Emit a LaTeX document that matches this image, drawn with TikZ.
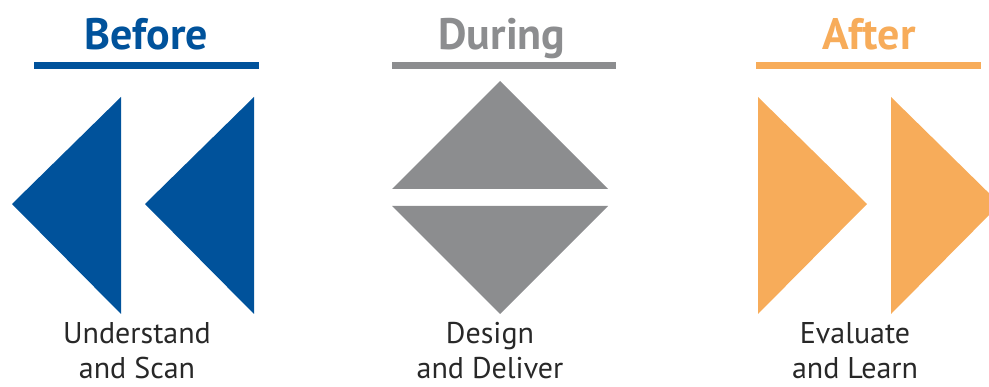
\documentclass[tikz,border=0pt]{standalone}
\usepackage{fontspec}
\setmainfont{PT Sans}
\usetikzlibrary{positioning}
\definecolor{beforeblue}{RGB}{0,82,155}
\definecolor{duringgray}{RGB}{140,141,143}
\definecolor{afterorange}{RGB}{247,172,90}
\definecolor{captiongray}{RGB}{40,40,40}
\tikzset{
  % Phase headings and captions
  phasetitle/.style   = { font=\fontsize{44}{44}\selectfont\bfseries, inner sep=0, anchor=base },
  phaserule/.style    = { line width=7pt },
  phasecaption/.style = { font=\fontsize{30}{35}\selectfont, text=captiongray,
                          align=center, inner sep=0, anchor=north },
  % Arrow shapes
  phasetri/.style     = { draw=none }
}

\begin{document}
\begin{tikzpicture}[x=1pt, y=-1pt]

  \useasboundingbox (0,0) rectangle (989,387);
  \clip (0,0) rectangle (989,387);

  % --- Before -------------------------------------------------------
  \node[phasetitle, text=beforeblue] (beforetitle) at (146,50) {Before};
  \draw[phaserule, beforeblue] (34,65.5) -- (259,65.5);
  \foreach \x in {12,145}
    \fill[phasetri, beforeblue] (\x,204) -- ++(109,-107) -- ++(0,217) -- cycle;
  \node[phasecaption] (beforecap) at (137,322) {Understand\\and Scan};

  % --- During -------------------------------------------------------
  \node[phasetitle, text=duringgray] (duringtitle) at (502,50) {During};
  \draw[phaserule, duringgray] (392,65.5) -- (616,65.5);
  \fill[phasetri, duringgray] (392,189) -- (500,81) -- (608,189) -- cycle;
  \fill[phasetri, duringgray] (392,206) -- (608,206) -- (500,314) -- cycle;
  \node[phasecaption] (duringcap) at (490,322) {Design\\and Deliver};

  % --- After --------------------------------------------------------
  \node[phasetitle, text=afterorange] (aftertitle) at (869,50) {After};
  \draw[phaserule, afterorange] (756,65.5) -- (981,65.5);
  \foreach \x in {758,891}
    \fill[phasetri, afterorange] (\x,97) -- ++(109,107) -- ++(-109,110) -- cycle;
  \node[phasecaption] (aftercap) at (855,322) {Evaluate\\and Learn};

\end{tikzpicture}
\end{document}
